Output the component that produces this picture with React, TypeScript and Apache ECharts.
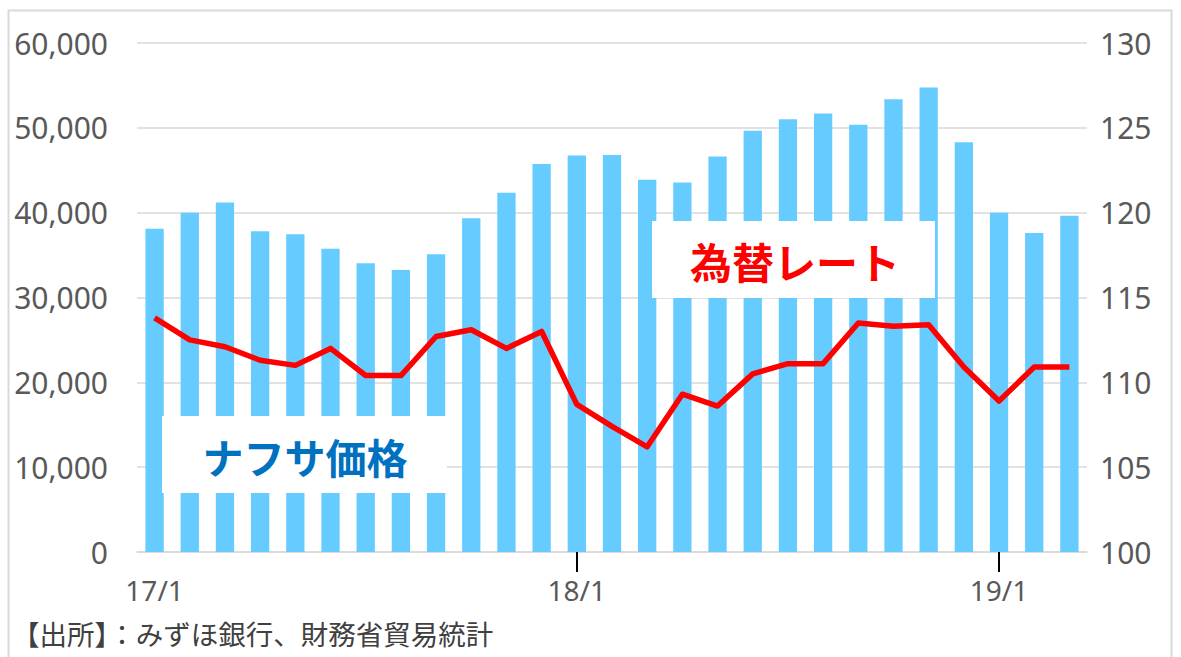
import React, { useEffect, useRef } from "react";
import * as echarts from "echarts";

const categories = [
  "17/1","17/2","17/3","17/4","17/5","17/6","17/7","17/8","17/9","17/10","17/11","17/12",
  "18/1","18/2","18/3","18/4","18/5","18/6","18/7","18/8","18/9","18/10","18/11","18/12",
  "19/1","19/2","19/3",
];
const naphthaPrice = [
  38100, 40000, 41200, 37800, 37450, 35760, 34040, 33250, 35100, 39330, 42350, 45730,
  46750, 46800, 43880, 43570, 46630, 49650, 51020, 51680, 50350, 53370, 54740, 48310,
  40000, 37610, 39650,
];
const exchangeRate = [
  113.8, 112.5, 112.1, 111.3, 111.0, 112.0, 110.4, 110.4, 112.7, 113.1, 112.0, 113.0,
  108.7, 107.4, 106.2, 109.3, 108.6, 110.5, 111.1, 111.1, 113.5, 113.3, 113.4, 110.9,
  108.9, 110.9, 110.9,
];
const leftTicks = { min: 0, max: 60000, interval: 10000 };
const rightTicks = { min: 100, max: 130, interval: 5 };
const shownLabelIndexes = [0, 12, 24];
const tickIndexes = [12, 24];
const sourceNote = "【出所】：みずほ銀行、財務省貿易統計";
const naphthaLabel = "ナフサ価格";
const rateLabel = "為替レート";

const FONT = "'Noto Sans', 'Noto Sans CJK JP', sans-serif";

export default function App() {
  const ref = useRef<HTMLDivElement>(null);
  useEffect(() => {
    if (!ref.current) return;
    const chart = echarts.init(ref.current, null, { renderer: "svg" });
    chart.setOption({
      animation: false,
      backgroundColor: "#ffffff",
      grid: { left: 137, right: 94, top: 43, bottom: 105 },
      xAxis: {
        type: "category",
        data: categories,
        axisLine: { show: true, lineStyle: { color: "#d9d9d9", width: 1.5 } },
        axisTick: {
          show: true,
          alignWithLabel: true,
          interval: (i: number) => tickIndexes.includes(i),
          length: 20,
          lineStyle: { color: "#000000", width: 2 },
        },
        axisLabel: {
          interval: (i: number) => shownLabelIndexes.includes(i),
          margin: 24,
          color: "#595959",
          fontSize: 28,
          fontFamily: FONT,
        },
      },
      yAxis: [
        {
          type: "value",
          ...leftTicks,
          axisLine: { show: false },
          axisTick: { show: false },
          splitLine: { lineStyle: { color: "#d9d9d9", width: 1.5 } },
          axisLabel: {
            margin: 29,
            color: "#595959",
            fontSize: 30,
            fontFamily: FONT,
            formatter: (v: number) => v.toLocaleString("en-US"),
          },
        },
        {
          type: "value",
          ...rightTicks,
          position: "right",
          axisLine: { show: false },
          axisTick: { show: false },
          splitLine: { show: false },
          axisLabel: {
            margin: 13,
            color: "#595959",
            fontSize: 30,
            fontFamily: FONT,
          },
        },
      ],
      series: [
        {
          type: "bar",
          data: naphthaPrice,
          yAxisIndex: 0,
          barWidth: "52%",
          itemStyle: { color: "#66CCFF" },
          z: 1,
        },
        {
          type: "line",
          data: exchangeRate,
          yAxisIndex: 1,
          symbol: "none",
          lineStyle: { color: "#FF0000", width: 5.5, join: "round" },
          z: 3,
        },
      ],
      graphic: [
        {
          type: "rect",
          shape: { x: 8.5, y: 10.5, width: 1163, height: 700 },
          style: { fill: "none", stroke: "#d9d9d9", lineWidth: 2 },
          z: 0,
          silent: true,
        },
        {
          type: "rect",
          shape: { x: 162, y: 416, width: 285, height: 77 },
          style: { fill: "#ffffff" },
          z: 10,
        },
        {
          type: "text",
          x: 305,
          y: 456,
          style: {
            text: naphthaLabel,
            fill: "#0070C0",
            font: "bold 41px 'Noto Sans CJK JP', sans-serif",
            textAlign: "center",
            textVerticalAlign: "middle",
          },
          z: 11,
        },
        {
          type: "rect",
          shape: { x: 652, y: 221, width: 283, height: 77 },
          style: { fill: "#ffffff" },
          z: 10,
        },
        {
          type: "text",
          x: 795,
          y: 260,
          style: {
            text: rateLabel,
            fill: "#FF0000",
            font: "bold 42px 'Noto Sans CJK JP', sans-serif",
            textAlign: "center",
            textVerticalAlign: "middle",
          },
          z: 11,
        },
        {
          type: "text",
          x: 12,
          y: 633,
          style: {
            text: sourceNote,
            fill: "#404040",
            font: "27.5px 'Noto Sans CJK JP', sans-serif",
            textAlign: "left",
            textVerticalAlign: "middle",
          },
          z: 11,
        },
      ],
    });
    return () => chart.dispose();
  }, []);
  return (
    <div
      ref={ref}
      style={{ position: "fixed", left: 0, top: 0, width: 1181, height: 657 }}
    />
  );
}
